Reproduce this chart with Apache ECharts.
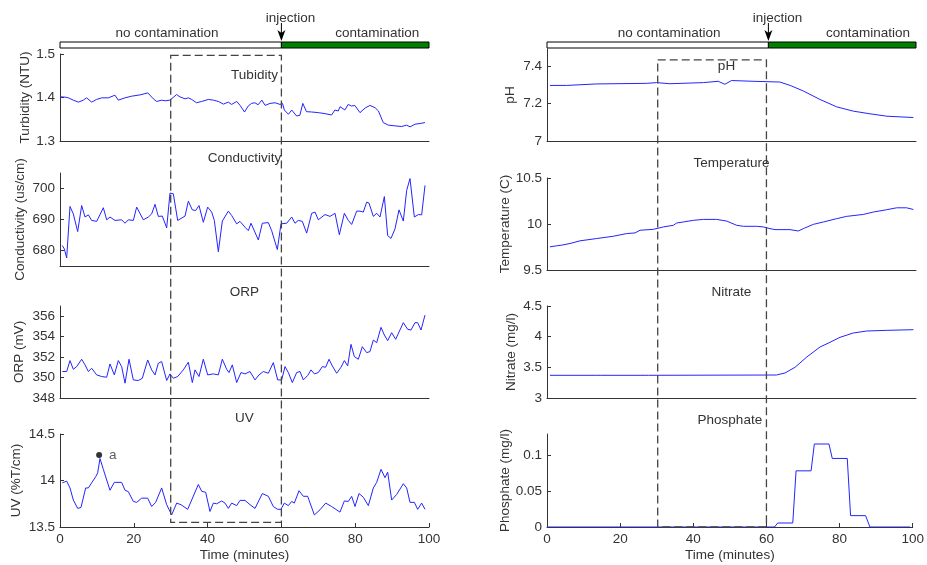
<!DOCTYPE html>
<html><head><meta charset="utf-8">
<script src="https://cdn.jsdelivr.net/npm/echarts@6/dist/echarts.min.js"></script>
<style>html,body{margin:0;padding:0;background:#fff}#c{width:927px;height:565px}</style>
</head><body><div id="c"></div>
<script>
// ---- data (time in minutes, value) ----
const turbidity=[[0,1.4015],[1.4,1.4008],[2.3,1.3992],[3.6,1.3939],[5.0,1.3894],[6.3,1.3939],[7.2,1.3992],[8.6,1.3894],[9.9,1.3955],[11.3,1.3992],[13.1,1.3992],[14.9,1.4053],[15.8,1.3939],[17.6,1.3992],[19.4,1.403],[21.7,1.406],[23.8,1.4106],[25.3,1.397],[26.2,1.3909],[27.6,1.3939],[28.5,1.3924],[29.8,1.3939],[31.6,1.4068],[32.5,1.4015],[33.9,1.397],[34.8,1.3992],[35.7,1.3955],[37.0,1.3879],[38.4,1.3909],[40.2,1.3955],[41.6,1.3939],[42.9,1.3909],[44.3,1.3848],[45.6,1.3894],[46.5,1.3841],[47.9,1.3909],[48.8,1.3818],[50.0,1.3667],[51.0,1.3803],[51.9,1.3864],[52.8,1.3879],[53.7,1.3833],[54.7,1.3939],[55.6,1.3818],[56.9,1.3864],[58.3,1.3879],[59.6,1.3841],[60.3,1.3864],[60.8,1.3712],[61.9,1.3614],[62.8,1.3712],[64.1,1.3576],[65.0,1.3591],[65.8,1.3864],[66.8,1.3674],[68.2,1.3667],[70.0,1.3652],[71.8,1.3629],[73.6,1.3598],[74.5,1.3712],[75.4,1.3689],[75.9,1.3788],[77.2,1.3712],[78.1,1.3841],[79.0,1.3803],[79.9,1.3818],[81.3,1.3652],[82.7,1.3758],[84.0,1.3818],[85.4,1.3765],[86.3,1.3689],[87.6,1.3424],[89.0,1.3364],[90.8,1.3348],[92.6,1.3333],[93.9,1.3364],[94.9,1.3326],[96.2,1.3386],[97.6,1.3402],[98.9,1.3424]];
const conductivity=[[0.63,681.6],[1.17,680.5],[1.81,677.6],[2.71,694.2],[3.61,691.8],[4.79,686.1],[5.87,694.5],[6.78,690.8],[7.68,691.5],[8.58,689.7],[9.94,689.4],[11.74,693.8],[12.65,689.9],[13.55,690.8],[14.91,689.7],[16.71,689.9],[17.62,688.8],[18.52,689.9],[19.87,689.7],[20.78,694.0],[22.58,689.9],[23.94,690.8],[24.84,691.8],[25.75,694.9],[26.65,691.0],[27.73,691.1],[28.91,687.3],[29.81,698.5],[30.71,698.3],[31.89,689.7],[33.88,691.1],[34.78,695.9],[35.86,693.1],[36.77,692.9],[37.67,694.5],[38.84,689.1],[40.02,694.0],[41.10,692.4],[41.82,689.7],[42.91,679.6],[43.99,689.5],[45.62,692.7],[46.52,691.3],[47.88,688.6],[48.78,689.4],[50.14,687.5],[51.04,686.4],[51.76,688.8],[53.75,683.4],[54.83,688.8],[56.46,689.0],[57.36,686.4],[58.90,680.3],[59.89,688.6],[61.43,688.8],[62.78,690.8],[63.69,688.8],[64.59,689.7],[65.67,689.4],[66.85,685.6],[68.20,692.0],[69.11,692.4],[70.01,689.9],[71.82,691.6],[73.17,691.0],[74.53,692.0],[75.70,685.1],[77.06,692.0],[78.14,689.7],[79.04,688.4],[80.40,692.7],[81.30,692.7],[82.20,692.4],[83.11,695.6],[83.74,695.3],[84.91,691.0],[85.82,692.0],[86.72,690.8],[87.90,697.4],[88.80,684.8],[89.70,683.9],[90.79,687.0],[91.87,693.1],[93.04,689.5],[93.95,699.4],[94.85,703.2],[96.03,690.8],[97.11,691.6],[98.01,691.5],[98.92,701.0]];
const orp=[[0.63,350.59],[1.81,350.59],[2.71,351.66],[3.61,350.81],[4.52,351.07],[5.87,351.79],[6.78,351.24],[7.68,350.59],[8.58,350.91],[9.94,350.26],[11.29,350.10],[12.65,350.03],[13.55,351.33],[14.72,350.26],[15.81,351.66],[16.71,351.07],[17.62,349.45],[18.70,351.79],[19.87,349.77],[21.23,349.71],[22.31,349.93],[23.76,351.72],[24.84,350.75],[25.75,350.26],[26.65,351.40],[27.55,351.56],[28.91,349.71],[29.81,350.36],[30.71,349.93],[31.89,350.10],[33.42,350.75],[34.78,351.50],[35.86,349.51],[36.59,350.75],[37.67,350.10],[38.84,351.79],[40.02,350.26],[41.55,350.36],[42.91,350.26],[43.99,351.79],[45.17,350.81],[45.80,350.49],[46.70,351.24],[47.88,349.51],[49.05,350.49],[50.14,350.36],[51.49,350.59],[52.85,349.77],[53.93,350.26],[55.10,350.59],[56.46,350.42],[57.81,351.46],[58.99,349.77],[60.07,349.77],[60.98,351.07],[61.88,350.49],[62.96,349.51],[64.14,350.49],[65.04,350.59],[65.94,349.77],[67.12,350.20],[68.02,350.75],[68.93,350.36],[70.01,350.49],[71.09,351.07],[71.99,351.01],[72.90,351.79],[73.80,351.14],[74.98,350.42],[76.15,351.01],[77.06,351.66],[77.96,351.14],[78.86,353.25],[79.77,352.05],[80.85,351.79],[81.93,353.02],[83.11,352.44],[84.01,352.54],[84.91,353.67],[85.82,353.41],[86.99,354.91],[87.90,354.16],[88.80,353.61],[89.88,354.39],[90.97,353.74],[93.04,355.37],[94.22,354.72],[95.12,354.65],[96.21,355.37],[96.93,355.37],[97.83,354.65],[98.92,356.11]];
const uv=[[0.63,13.975],[1.81,13.993],[2.71,13.92],[3.61,13.79],[4.79,13.70],[5.69,13.71],[6.96,13.92],[7.68,13.92],[8.58,13.975],[9.67,14.04],[10.21,14.083],[10.84,14.236],[11.74,14.12],[13.55,13.895],[14.72,13.98],[16.71,13.98],[17.62,13.895],[18.52,13.88],[19.87,13.775],[20.78,13.765],[22.13,13.81],[23.76,13.81],[24.84,13.72],[25.93,13.765],[27.55,13.92],[28.91,13.74],[30.26,13.63],[31.62,13.757],[32.79,13.74],[34.60,13.69],[37.49,13.957],[38.39,13.884],[39.48,13.873],[40.65,13.667],[41.55,13.757],[42.46,13.75],[43.81,13.78],[44.72,13.757],[45.62,13.70],[46.52,13.757],[47.88,13.73],[48.78,13.786],[50.14,13.786],[51.49,13.74],[52.85,13.70],[54.83,13.86],[56.46,13.83],[57.81,13.72],[58.99,13.69],[59.89,13.69],[60.79,13.757],[61.88,13.73],[62.78,13.775],[63.50,13.757],[64.77,13.89],[65.94,13.83],[67.12,13.83],[68.93,13.63],[70.46,13.685],[72.00,13.757],[73.62,13.72],[75.88,13.66],[77.06,13.78],[78.14,13.775],[79.04,13.83],[79.95,13.72],[81.03,13.86],[82.20,13.82],[83.56,13.73],[84.91,13.92],[85.82,13.98],[86.99,14.12],[88.08,14.03],[88.80,14.09],[89.88,13.79],[91.24,13.85],[93.04,13.965],[93.95,13.92],[94.85,13.765],[96.03,13.765],[96.93,13.69],[98.01,13.757],[98.92,13.69]];
const uvMarker=[[10.6,14.275]];
const ph=[[0.8,7.296],[5.3,7.296],[13.5,7.304],[27.0,7.307],[29.7,7.311],[33.3,7.305],[42.4,7.311],[46.4,7.318],[48.2,7.302],[50.0,7.322],[55.9,7.318],[63.1,7.314],[65.9,7.296],[69.5,7.266],[74.0,7.221],[78.5,7.182],[83.0,7.159],[87.5,7.145],[92.1,7.132],[99.3,7.125]];
const temperature=[[0.81,9.752],[2.62,9.763],[3.97,9.77],[6.23,9.788],[8.94,9.817],[13.46,9.842],[17.98,9.867],[21.59,9.896],[23.85,9.903],[25.20,9.932],[28.82,9.942],[31.53,9.968],[34.24,9.986],[35.14,10.011],[36.95,10.022],[39.66,10.040],[42.37,10.05],[45.98,10.05],[48.69,10.032],[51.40,9.986],[53.21,9.975],[56.82,9.975],[58.63,9.968],[60.43,9.95],[61.79,9.939],[65.85,9.939],[68.11,9.924],[69.47,9.95],[72.18,9.996],[74.89,10.022],[78.50,10.058],[81.21,10.083],[85.73,10.104],[88.44,10.13],[92.05,10.155],[94.76,10.176],[97.47,10.176],[99.28,10.158]];
const nitrate=[[0.8,3.37],[13.5,3.37],[13.9,3.355],[14.4,3.37],[26.6,3.37],[27.0,3.355],[27.5,3.37],[62.2,3.375],[64.5,3.408],[67.2,3.5],[70.4,3.668],[74.0,3.832],[76.7,3.908],[79.4,3.989],[83.0,4.06],[86.6,4.092],[92.1,4.103],[99.3,4.114]];
const phosphate=[[0,0],[60,0],[62.2,0],[63.1,0.0056],[67.2,0.0056],[68.1,0.0785],[72.2,0.0785],[73.1,0.116],[77.1,0.116],[78.0,0.0958],[82.1,0.0958],[83.0,0.0159],[87.1,0.0159],[88.3,0],[99.3,0]];
// axis ticks
const xTicks=[0,20,40,60,80,100];
const turbTicks=[1.3,1.4,1.5], condTicks=[680,690,700], orpTicks=[348,350,352,354,356], uvTicks=[13.5,14,14.5];
const phTicks=[7,7.2,7.4], tempTicks=[9.5,10,10.5], nitTicks=[3,3.5,4,4.5], phosTicks=[0,0.05,0.1];
const panelNames=['Turbidity (NTU)','Conductivity (us/cm)','ORP (mV)','UV (%T/cm)','pH','Temperature (C)','Nitrate (mg/l)','Phosphate (mg/l)'];
const panelTitles=['Tubidity','Conductivity','ORP','UV','pH','Temperature','Nitrate','Phosphate'];
const injectionTime=60, windowStart=30, windowEnd=60;

// ---- layout ----
const FONT='"Liberation Sans", Arial, sans-serif';
const TXT='#333';
const panels=[
 {g:{left:60,top:54,width:369,height:87}, min:1.3,max:1.5,ticks:turbTicks,data:turbidity,gap:28},
 {g:{left:60,top:173,width:369,height:93}, min:675,max:705,ticks:condTicks,data:conductivity,gap:33},
 {g:{left:60,top:306,width:369,height:92}, min:348,max:357,ticks:orpTicks,data:orp,gap:34},
 {g:{left:60,top:434,width:369,height:93}, min:13.5,max:14.5,ticks:uvTicks,data:uv,gap:37,bottom:true},
 {g:{left:547,top:49,width:369,height:92}, min:7,max:7.49,ticks:phTicks,data:ph,gap:30},
 {g:{left:547,top:178,width:369,height:92}, min:9.5,max:10.5,ticks:tempTicks,data:temperature,gap:35},
 {g:{left:547,top:306,width:369,height:92}, min:3,max:4.5,ticks:nitTicks,data:nitrate,gap:29},
 {g:{left:547,top:434,width:369,height:93}, min:0,max:0.13,ticks:phosTicks,data:phosphate,gap:35,bottom:true}
];
const axisLine={show:true,lineStyle:{color:'#333',width:1}};
const option={
 animation:false,
 backgroundColor:'#fff',
 textStyle:{fontFamily:FONT},
 grid:panels.map(p=>Object.assign({containLabel:false},p.g)),
 xAxis:panels.map((p,i)=>({
   type:'value',gridIndex:i,min:0,max:100,interval:20,
   axisLine:axisLine,splitLine:{show:false},
   axisTick:{show:!!p.bottom,inside:true,length:4,lineStyle:{color:'#333'}},
   axisLabel:{show:!!p.bottom,color:TXT,fontSize:13.5,fontFamily:FONT,margin:5},
   name:p.bottom?'Time (minutes)':'',nameLocation:'middle',nameGap:21,
   nameTextStyle:{color:TXT,fontSize:13.5,fontFamily:FONT}
 })),
 yAxis:panels.map((p,i)=>({
   type:'value',gridIndex:i,min:p.min,max:p.max,
   axisLine:axisLine,splitLine:{show:false},
   axisTick:{show:true,inside:true,length:4,customValues:p.ticks,lineStyle:{color:'#333'}},
   axisLabel:{color:TXT,fontSize:13.5,fontFamily:FONT,margin:5,customValues:p.ticks,formatter:v=>String(+v.toFixed(4))},
   name:panelNames[i],nameLocation:'middle',nameGap:p.gap,nameRotate:90,
   nameTextStyle:{color:TXT,fontSize:13.5,fontFamily:FONT}
 })),
 series:panels.map((p,i)=>({
   type:'line',xAxisIndex:i,yAxisIndex:i,data:p.data,showSymbol:false,symbol:'none',
   lineStyle:{color:'#2424ff',width:1},z:3
 })).concat([{
   type:'scatter',xAxisIndex:3,yAxisIndex:3,data:uvMarker,symbolSize:6,
   itemStyle:{color:'#000'},
   label:{show:true,position:'right',distance:7,formatter:'a',color:TXT,fontSize:13.5,fontFamily:FONT},z:5
 }])
};
const chart=echarts.init(document.getElementById('c'),null,{renderer:'canvas'});
chart.setOption(option);

// ---- annotations computed through the chart's own scales ----
const px=(gi,x,y)=>chart.convertToPixel({gridIndex:gi},[x,y]);
const g=[];
const txt=(x,y,s,align)=>({type:'text',x:x,y:y,z:20,style:{text:s,fill:TXT,font:'13.5px '+FONT,align:align||'center',verticalAlign:'middle'}});
[[0,29,86],[4,33.1,87]].forEach(([gi,tNo,tCo])=>{
  const p0=px(gi,0,panels[gi].max), pI=px(gi,injectionTime,panels[gi].max), p1=px(gi,100,panels[gi].max);
  const yb=42, hb=6;
  g.push({type:'rect',z:10,shape:{x:p0[0],y:yb,width:pI[0]-p0[0],height:hb},style:{fill:'#fff',stroke:'#000',lineWidth:1}});
  g.push({type:'rect',z:10,shape:{x:pI[0],y:yb,width:p1[0]-pI[0],height:hb},style:{fill:'#008000',stroke:'#000',lineWidth:1}});
  const xa=pI[0];
  g.push({type:'line',z:11,shape:{x1:xa,y1:23,x2:xa,y2:34},style:{stroke:'#000',lineWidth:1}});
  g.push({type:'polygon',z:11,shape:{points:[[xa-4,30],[xa,33],[xa+4,30],[xa,41]]},style:{fill:'#000'}});
  g.push(txt(xa+9,18,'injection'));
  g.push(txt(px(gi,tNo,0)[0],33,'no contamination'));
  g.push(txt(px(gi,tCo,0)[0],33,'contamination'));
});
// dashed windows
const dash=(gt,yt,gbI,ybv)=>{
  const a=px(gt,windowStart,yt), b=px(gbI,windowEnd,ybv);
  g.push({type:'rect',z:15,shape:{x:a[0],y:a[1],width:b[0]-a[0],height:b[1]-a[1]},
    style:{fill:'none',stroke:'#444',lineWidth:1.3,lineDash:[8,4]}});
};
dash(0,1.497,3,13.55);
dash(4,7.432,7,0);
// panel titles
const titleY=[75,158,292,418,66,163,292,420];
const titleDx=[10,0,0,0,-5,0,0,0];
panelTitles.forEach((t,i)=>{
  const x=px(i,50,panels[i].min)[0]+titleDx[i];
  g.push(txt(x,titleY[i],t));
});
chart.setOption({graphic:{elements:g}});
</script>
</body></html>
